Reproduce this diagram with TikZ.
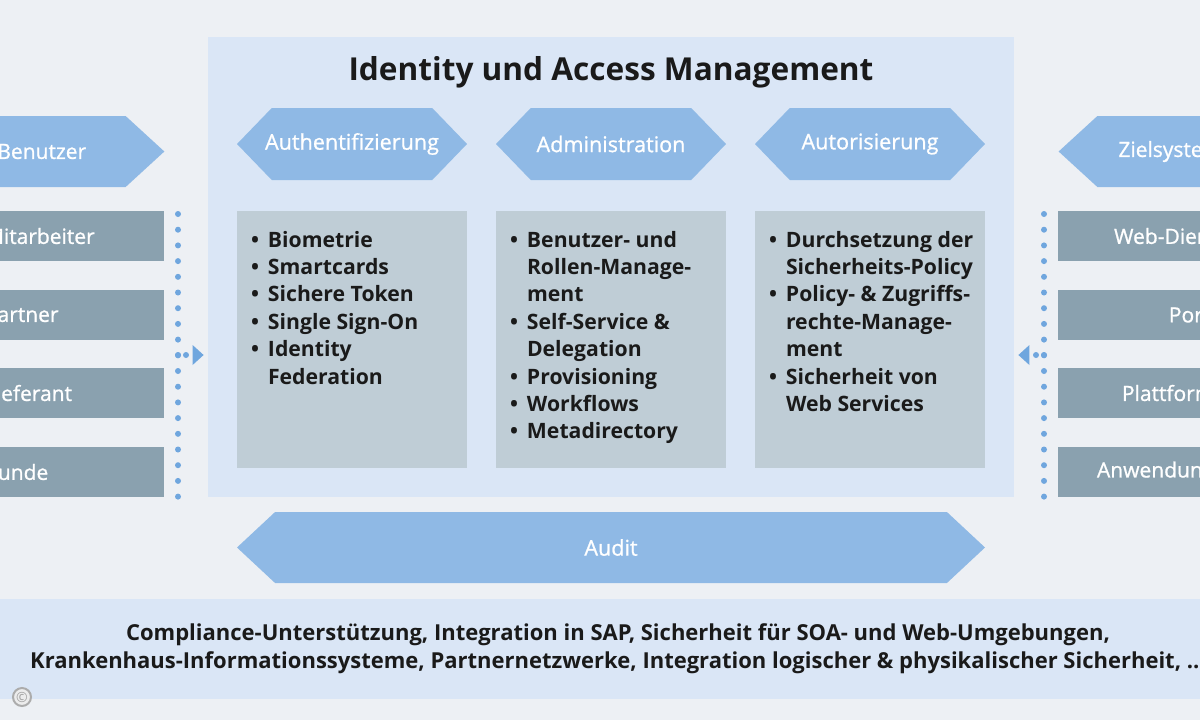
\documentclass[tikz,border=0pt]{standalone}
\usepackage{fontspec}
\setmainfont{Open Sans}
\newfontfamily\medfont{Open Sans}[FakeBold=1]
\usetikzlibrary{shapes.symbols,arrows.meta,positioning}

\definecolor{bggray}{HTML}{EDF0F4}
\definecolor{iampanel}{HTML}{DAE6F6}
\definecolor{arrowblue}{HTML}{8FB9E5}
\definecolor{listgray}{HTML}{BFCDD6}
\definecolor{sidegray}{HTML}{8AA1AF}
\definecolor{dotblue}{HTML}{6FA6DE}
\definecolor{inkdark}{HTML}{1A1A1A}

\newcommand\bul{\makebox[8.5pt][l]{•}}
\newcommand\ind{\hspace*{8.5pt}}

\tikzset{
  hexhead/.style={signal, signal to=west and east, signal pointer angle=92,
    fill=arrowblue, text=white, minimum width=115pt, minimum height=36pt,
    inner sep=0pt, font=\medfont\fontsize{10.8}{13}\selectfont},
  listbox/.style={fill=listgray, minimum width=115pt, minimum height=128.5pt, inner sep=0pt},
  listtext/.style={anchor=north west, inner sep=0pt, text=inkdark, align=left,
    font=\bfseries\fontsize{10.6}{13.7}\selectfont},
  sidelbl/.style={text=white, inner sep=0pt, font=\medfont\fontsize{10.5}{12}\selectfont},
  sidebox/.style={sidelbl, fill=sidegray, minimum height=25pt},
  userbox/.style={sidebox, inner xsep=22.5pt, text width=67pt, align=left},
  targetbox/.style={sidebox, inner xsep=10.5pt, text width=80pt, align=right},
  dotline/.style={dotblue, line width=3pt, line cap=round},
}

\begin{document}
\begin{tikzpicture}[x=0.5pt,y=-0.5pt]
\useasboundingbox[fill=bggray] (0,0) rectangle (1200,720);
\clip (0,0) rectangle (1200,720);

% main panel
\node[fill=iampanel, minimum width=403pt, minimum height=230pt] (panel) at (611,267) {};
\node[text=inkdark, font=\bfseries\fontsize{15.8}{18}\selectfont] (title) at (611,72)
  {Identity und Access Management};

% three columns
\node[hexhead] (authn) at (352,144) {\makebox[0pt]{Authentifizierung}};
\node[hexhead] (admin) at (611,144) {\makebox[0pt]{Administration}};
\node[hexhead] (authz) at (870,144) {\makebox[0pt]{Autorisierung}};

\node[listbox] (authnlist) at (352,339.5) {};
\node[listbox] (adminlist) at (611,339.5) {};
\node[listbox] (authzlist) at (870,339.5) {};

\node[listtext] at ([shift={(14,20)}]authnlist.north west)
  {\bul Biometrie\\ \bul Smartcards\\ \bul Sichere Token\\ \bul Single Sign-On\\
   \bul Identity\\ \ind Federation};
\node[listtext] at ([shift={(14,20)}]adminlist.north west)
  {\bul Benutzer- und\\ \ind Rollen-Manage-\\ \ind ment\\ \bul Self-Service \&\\
   \ind Delegation\\ \bul Provisioning\\ \bul Workflows\\ \bul Metadirectory};
\node[listtext] at ([shift={(14,20)}]authzlist.north west)
  {\bul Durchsetzung der\\ \ind Sicherheits-Policy\\ \bul Policy- \& Zugriffs-\\
   \ind rechte-Manage-\\ \ind ment\\ \bul Sicherheit von\\ \ind Web Services};

% audit
\node[signal, signal to=west and east, signal pointer angle=86, fill=arrowblue,
  minimum width=374pt, minimum height=35.5pt, inner sep=0pt, text=white,
  font=\medfont\fontsize{10.8}{13}\selectfont] (audit) at (611,547.5) {Audit};

% left side: users
\node[signal, signal to=east, signal pointer angle=85, fill=arrowblue,
  minimum width=112pt, minimum height=35.5pt, inner sep=0pt,
  label={[sidelbl, anchor=west, xshift=28.5pt]west:Benutzer}] (users) at (33,151.5) {};
\node[userbox] (staff) at (52,236) {Mitarbeiter};
\node[userbox] (partner) at (52,314.5) {Partner};
\node[userbox] (supplier) at (52,393) {Lieferant};
\node[userbox] (customer) at (52,472) {Kunde};

% right side: target systems
\node[signal, signal to=west, signal pointer angle=85, fill=arrowblue,
  minimum width=101pt, minimum height=35.5pt, inner sep=0pt,
  label={[sidelbl, anchor=west, xshift=30pt]west:Zielsysteme}] (targets) at (1179,151.5) {};
\node[targetbox] (webserv) at (1159,236) {Web-Dienste};
\node[targetbox] (portals) at (1159,314.5) {Portale};
\node[targetbox] (platforms) at (1159,393) {Plattformen};
\node[targetbox] (apps) at (1159,472) {Anwendungen};

% dotted connectors
\coordinate (ltop) at (178,214);
\coordinate (lbot) at (178,497);
\coordinate (lmid) at (178,355);
\coordinate (rtop) at (1044,214);
\coordinate (rbot) at (1044,497);
\coordinate (rmid) at (1044,355);
\draw[dotline, dash pattern=on 0pt off 7.85pt] (ltop) -- (lbot);
\draw[dotline, dash pattern=on 0pt off 7.85pt] (rtop) -- (rbot);
\draw[dotline, dash pattern=on 0pt off 4pt, shorten >=2pt,
  -{Triangle[length=5.5pt,width=10pt,line width=0pt]}] (lmid) -- (lmid -| panel.west);
\draw[dotline, dash pattern=on 0pt off 4pt, shorten >=2pt,
  -{Triangle[length=5.5pt,width=10pt,line width=0pt]}] (rmid) -- (rmid -| panel.east);

% use cases
\node[fill=iampanel, minimum width=640pt, minimum height=50pt, align=center,
  text=inkdark, font=\bfseries\fontsize{11}{14}\selectfont] (usecases) at (618,649)
  {Compliance-Unterstützung, Integration in SAP, Sicherheit für SOA- und Web-Umgebungen,\\
   Krankenhaus-Informationssysteme, Partnernetzwerke, Integration logischer \& physikalischer Sicherheit, ...};

\node[circle, fill=gray!15, draw=gray!65, line width=1pt, minimum size=9pt, inner sep=0pt,
  text=gray!75, font=\fontsize{7}{7}\selectfont] (copy) at (22,697) {©};
\end{tikzpicture}
\end{document}
